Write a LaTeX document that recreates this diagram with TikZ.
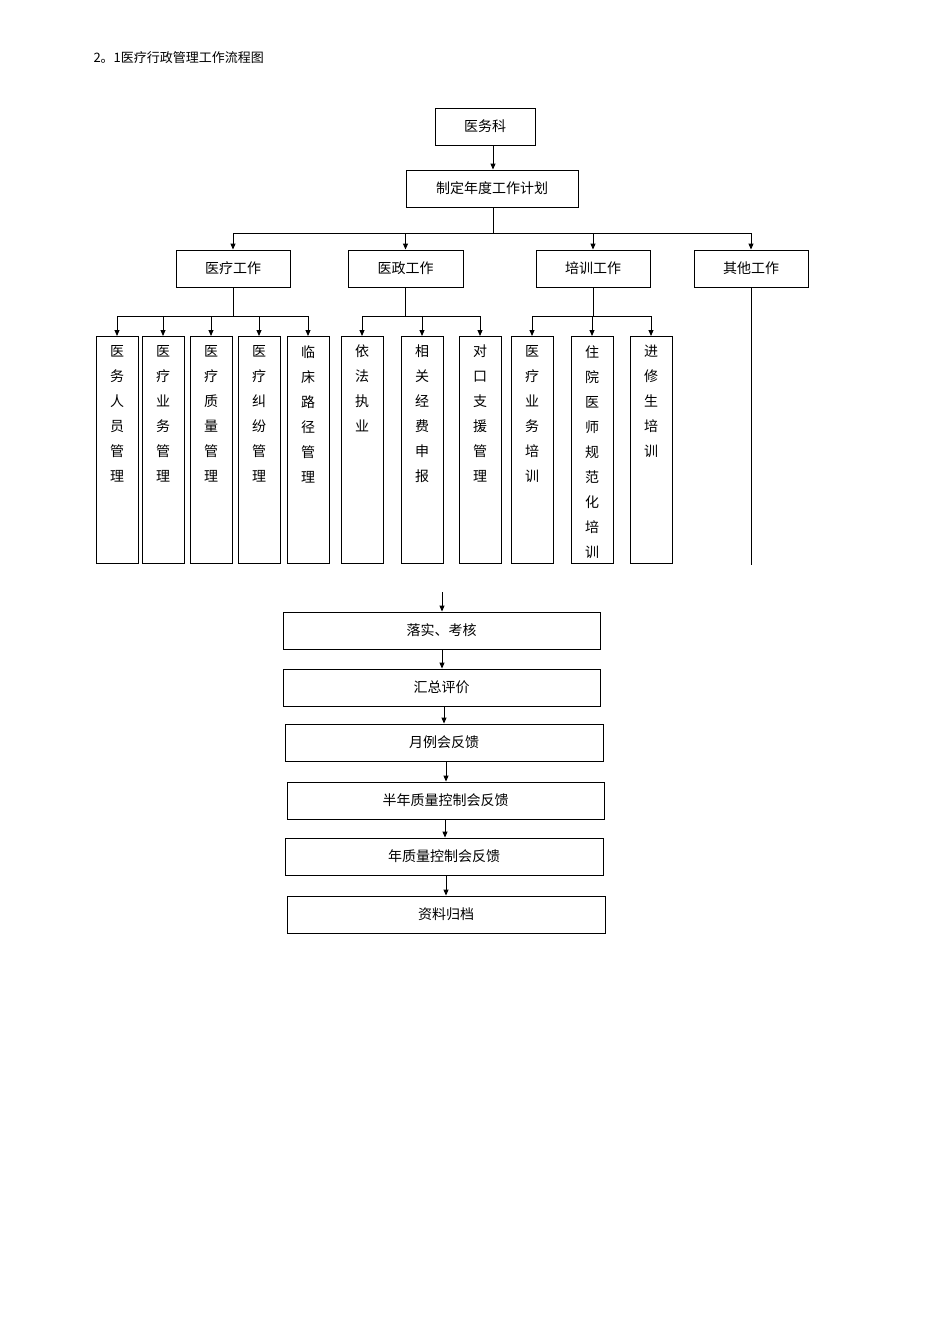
\documentclass[tikz,border=0pt]{standalone}
\usepackage{fontspec}
\newfontfamily\cjk{Noto Sans CJK SC}
\usetikzlibrary{arrows.meta}
\begin{document}
\begin{tikzpicture}[x=1pt,y=-1pt,
 bx/.style={draw,line width=0.9pt,inner sep=0pt,font=\cjk\fontsize{14}{14}\selectfont},
 vb/.style={draw,line width=0.9pt,inner sep=0pt,minimum width=42pt,minimum height=227pt,anchor=north,font=\cjk\fontsize{14}{25}\selectfont,align=center},
 ar/.style={-{Triangle[length=6pt,width=5pt]},line width=0.9pt},
 ln/.style={line width=0.9pt}]
\useasboundingbox (0,0) rectangle (950,1344);
\node[anchor=west,font=\cjk\fontsize{13}{13}\selectfont] (title) at (90,58) {2。1医疗行政管理工作流程图};
\newcommand{\rbox}[6]{\node[bx,minimum width=#4-#3,minimum height=#6-#5] (#1) at ({(#3+#4)/2},{(#5+#6)/2}) {#2};}
\rbox{a}{医务科}{435}{535}{108}{145}
\rbox{b}{制定年度工作计划}{406}{578}{170}{207}
\rbox{c1}{医疗工作}{176}{290}{250}{287}
\rbox{c2}{医政工作}{348}{463}{250}{287}
\rbox{c3}{培训工作}{536}{650}{250}{287}
\rbox{c4}{其他工作}{694}{808}{250}{287}
\draw[ar] (a.south -| 493,0) -- (b.north -| 493,0);
\draw[ln] (b.south -| 493,0) -- (493,233);
\draw[ln] (233,233) -- (751,233);
\foreach \n in {c1,c2,c3,c4} \draw[ar] (\n.north |- 0,233) -- (\n.north);
\coordinate (oe) at (751,565);
\draw[ln] (c4.south) -- (oe);
% level 3
\foreach \n/\x/\t in {d1/117/医\\务\\人\\员\\管\\理, d2/163/医\\疗\\业\\务\\管\\理, d3/211/医\\疗\\质\\量\\管\\理, d4/259/医\\疗\\纠\\纷\\管\\理, d5/308/临\\床\\路\\径\\管\\理,
 e1/362/依\\法\\执\\业, e2/422/相\\关\\经\\费\\申\\报, e3/480/对\\口\\支\\援\\管\\理,
 f1/532/医\\疗\\业\\务\\培\\训, f2/592/住\\院\\医\\师\\规\\范\\化\\培\\训, f3/651/进\\修\\生\\培\\训}
 {\node[vb] (\n) at (\x,336) {};
  \node[anchor=north,font=\cjk\fontsize{14}{25}\selectfont,align=center,inner sep=0pt] (\n t) at (\x,345) {\t};}
\draw[ln] (c1.south) -- (233,316); \draw[ln] (117,316) -- (308,316);
\foreach \n in {d1,d2,d3,d4,d5} \draw[ar] (\n.north |- 0,316) -- (\n.north);
\draw[ln] (c2.south) -- (c2.south |- 0,316); \draw[ln] (362,316) -- (480,316);
\foreach \n in {e1,e2,e3} \draw[ar] (\n.north |- 0,316) -- (\n.north);
\draw[ln] (c3.south) -- (593,316); \draw[ln] (532,316) -- (651,316);
\foreach \n in {f1,f2,f3} \draw[ar] (\n.north |- 0,316) -- (\n.north);
% bottom chain
\rbox{g1}{落实、考核}{283}{600}{612}{649}
\rbox{g2}{汇总评价}{283}{600}{669}{706}
\rbox{g3}{月例会反馈}{285}{603}{724}{761}
\rbox{g4}{半年质量控制会反馈}{287}{604}{782}{819}
\rbox{g5}{年质量控制会反馈}{285}{603}{838}{875}
\rbox{g6}{资料归档}{287}{605}{896}{933}
\coordinate (gs) at (442,592);
\draw[ar] (gs) -- (g1.north -| gs);
\draw[ar] (g1.south -| 442,0) -- (g2.north -| 442,0);
\draw[ar] (g2.south -| 444,0) -- (g3.north -| 444,0);
\draw[ar] (g3.south -| 446,0) -- (g4.north -| 446,0);
\draw[ar] (g4.south -| 445,0) -- (g5.north -| 445,0);
\draw[ar] (g5.south -| 446,0) -- (g6.north -| 446,0);
\end{tikzpicture}
\end{document}
